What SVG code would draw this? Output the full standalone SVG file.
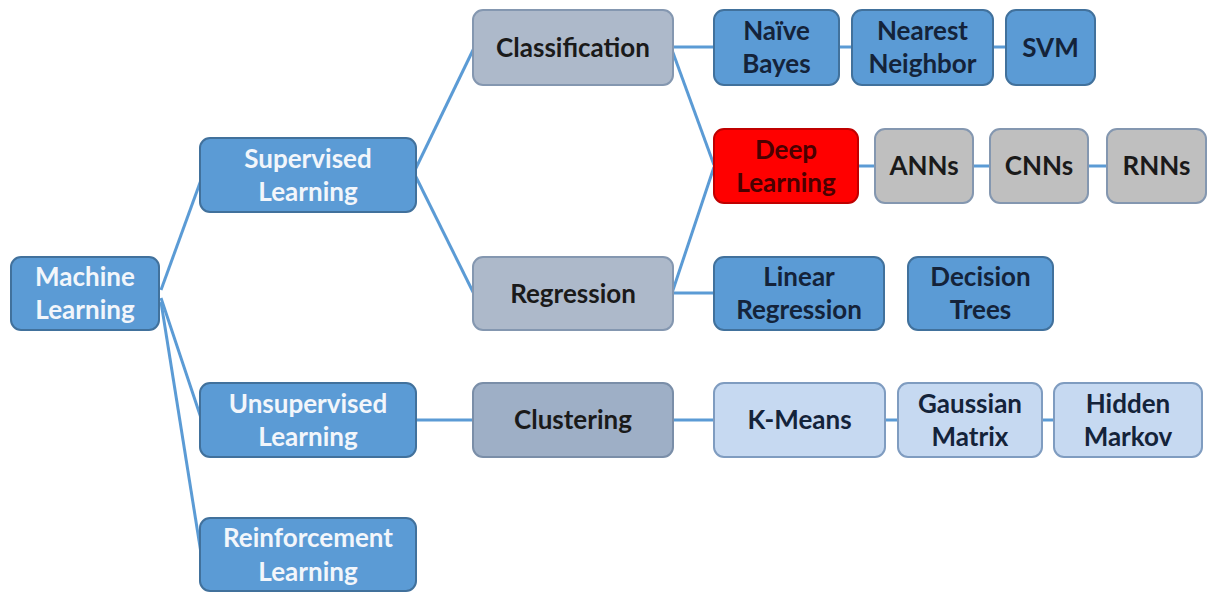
<svg xmlns="http://www.w3.org/2000/svg" width="1208" height="592" viewBox="0 0 1208 592">
  <style>
    .lnk { stroke: #5b9bd5; stroke-width: 3; fill: none; }
    .box { stroke-width: 2; }
    .blue { fill: #5b9bd5; stroke: #41719c; }
    .slate { fill: #adb9ca; stroke: #8497b0; }
    .slate2 { fill: #9eafc6; stroke: #7a8ea8; }
    .pale { fill: #c6d9f1; stroke: #7f9cc0; }
    .grey { fill: #bfbfbf; stroke: #8497b0; }
    .red { fill: #ff0000; stroke: #c00000; }
    text { font-family: Lato, "Open Sans", "Liberation Sans", sans-serif; font-weight: bold; font-size: 26px; text-anchor: middle; }
    .w { fill: #f2f6fb; }
    .d { fill: #14233a; }
    .k { fill: #1a1a1a; }
    .r { fill: #4a0000; }
  </style>
  <rect width="1208" height="592" fill="#ffffff"/>

  <!-- connectors -->
  <g id="connectors">
    <line class="lnk" x1="161" y1="290" x2="201" y2="180"/>
    <line class="lnk" x1="161" y1="298" x2="201" y2="418"/>
    <line class="lnk" x1="161" y1="302" x2="201" y2="553"/>
    <line class="lnk" x1="415" y1="170" x2="474" y2="48"/>
    <line class="lnk" x1="415" y1="175" x2="474" y2="294"/>
    <line class="lnk" x1="672" y1="47" x2="715" y2="47"/>
    <line class="lnk" x1="838" y1="47" x2="853" y2="47"/>
    <line class="lnk" x1="992" y1="47" x2="1007" y2="47"/>
    <line class="lnk" x1="672" y1="50" x2="714" y2="165"/>
    <line class="lnk" x1="672" y1="293" x2="714" y2="167"/>
    <line class="lnk" x1="857" y1="166" x2="876" y2="166"/>
    <line class="lnk" x1="972" y1="166" x2="991" y2="166"/>
    <line class="lnk" x1="1087" y1="166" x2="1108" y2="166"/>
    <line class="lnk" x1="672" y1="293" x2="715" y2="293"/>
    <line class="lnk" x1="415" y1="420" x2="474" y2="420"/>
    <line class="lnk" x1="672" y1="420" x2="715" y2="420"/>
    <line class="lnk" x1="884" y1="420" x2="899" y2="420"/>
    <line class="lnk" x1="1041" y1="420" x2="1055" y2="420"/>
  </g>

  <!-- level 0 -->
  <g id="machine-learning">
    <rect class="box blue" x="11" y="257" width="148" height="73" rx="10"/>
    <text class="w" x="85" y="286">Machine</text>
    <text class="w" x="85" y="319">Learning</text>
  </g>

  <!-- level 1 -->
  <g id="supervised-learning">
    <rect class="box blue" x="200" y="138" width="216" height="74" rx="10"/>
    <text class="w" x="308" y="168">Supervised</text>
    <text class="w" x="308" y="201">Learning</text>
  </g>
  <g id="unsupervised-learning">
    <rect class="box blue" x="200" y="383" width="216" height="74" rx="10"/>
    <text class="w" x="308" y="413">Unsupervised</text>
    <text class="w" x="308" y="446">Learning</text>
  </g>
  <g id="reinforcement-learning">
    <rect class="box blue" x="200" y="518" width="216" height="73" rx="10"/>
    <text class="w" x="308" y="547">Reinforcement</text>
    <text class="w" x="308" y="581">Learning</text>
  </g>

  <!-- level 2 -->
  <g id="classification">
    <rect class="box slate" x="473" y="10" width="200" height="75" rx="10"/>
    <text class="k" x="573" y="57">Classification</text>
  </g>
  <g id="regression">
    <rect class="box slate" x="473" y="257" width="200" height="73" rx="10"/>
    <text class="k" x="573" y="303">Regression</text>
  </g>
  <g id="clustering">
    <rect class="box slate2" x="473" y="383" width="200" height="74" rx="10"/>
    <text class="k" x="573" y="429">Clustering</text>
  </g>

  <!-- classification methods -->
  <g id="naive-bayes">
    <rect class="box blue" x="714" y="10" width="125" height="75" rx="10"/>
    <text class="d" x="776.5" y="40">Naïve</text>
    <text class="d" x="776.5" y="73">Bayes</text>
  </g>
  <g id="nearest-neighbor">
    <rect class="box blue" x="852" y="10" width="141" height="75" rx="10"/>
    <text class="d" x="922.5" y="40">Nearest</text>
    <text class="d" x="922.5" y="73">Neighbor</text>
  </g>
  <g id="svm">
    <rect class="box blue" x="1006" y="10" width="89" height="75" rx="10"/>
    <text class="d" x="1050.5" y="57">SVM</text>
  </g>

  <!-- deep learning chain -->
  <g id="deep-learning">
    <rect class="box red" x="714" y="129" width="144" height="74" rx="10"/>
    <text class="r" x="786" y="159">Deep</text>
    <text class="r" x="786" y="192">Learning</text>
  </g>
  <g id="anns">
    <rect class="box grey" x="875" y="129" width="98" height="74" rx="10"/>
    <text class="k" x="924" y="175">ANNs</text>
  </g>
  <g id="cnns">
    <rect class="box grey" x="990" y="129" width="98" height="74" rx="10"/>
    <text class="k" x="1039" y="175">CNNs</text>
  </g>
  <g id="rnns">
    <rect class="box grey" x="1107" y="129" width="99" height="74" rx="10"/>
    <text class="k" x="1156.5" y="175">RNNs</text>
  </g>

  <!-- regression methods -->
  <g id="linear-regression">
    <rect class="box blue" x="714" y="257" width="170" height="73" rx="10"/>
    <text class="d" x="799" y="286">Linear</text>
    <text class="d" x="799" y="319">Regression</text>
  </g>
  <g id="decision-trees">
    <rect class="box blue" x="908" y="257" width="145" height="73" rx="10"/>
    <text class="d" x="980.5" y="286">Decision</text>
    <text class="d" x="980.5" y="319">Trees</text>
  </g>

  <!-- clustering methods -->
  <g id="k-means">
    <rect class="box pale" x="714" y="383" width="171" height="74" rx="10"/>
    <text class="d" x="799.5" y="429">K-Means</text>
  </g>
  <g id="gaussian-matrix">
    <rect class="box pale" x="898" y="383" width="144" height="74" rx="10"/>
    <text class="d" x="970" y="413">Gaussian</text>
    <text class="d" x="970" y="446">Matrix</text>
  </g>
  <g id="hidden-markov">
    <rect class="box pale" x="1054" y="383" width="148" height="74" rx="10"/>
    <text class="d" x="1128" y="413">Hidden</text>
    <text class="d" x="1128" y="446">Markov</text>
  </g>
</svg>
